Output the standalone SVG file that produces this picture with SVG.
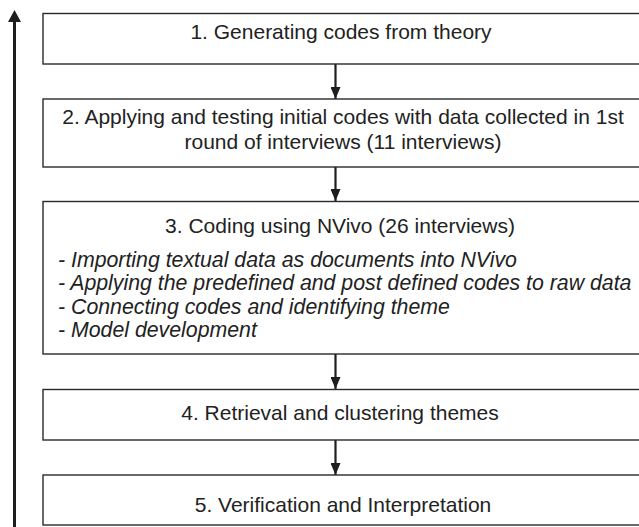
<svg xmlns="http://www.w3.org/2000/svg" width="639" height="527" viewBox="0 0 639 527">
<defs>
<style>
.box{fill:#fff;stroke:#2a2a2a;stroke-width:1.4}
.t{font-family:"Liberation Sans",Arial,sans-serif;font-size:21px;fill:#222;text-anchor:middle}
.i{font-family:"Liberation Sans",Arial,sans-serif;font-size:21.3px;fill:#222;font-style:italic}
.c{stroke:#1e1e1e;stroke-width:2.2;fill:none}
.h{fill:#1e1e1e}
</style>
<marker id="ah" markerWidth="12" markerHeight="10" refX="12" refY="5" orient="auto" markerUnits="userSpaceOnUse" viewBox="0 0 12 10">
<path d="M0,0 L12,5 L0,10 Z" class="h"/>
</marker>
</defs>
<rect width="639" height="527" fill="#fff"/>
<g id="connectors">
<line class="c" x1="335.5" y1="64" x2="335.5" y2="99" marker-end="url(#ah)"/>
<line class="c" x1="335.5" y1="167" x2="335.5" y2="201" marker-end="url(#ah)"/>
<line class="c" x1="335.5" y1="354" x2="335.5" y2="389" marker-end="url(#ah)"/>
<line class="c" x1="335.5" y1="440" x2="335.5" y2="475" marker-end="url(#ah)"/>
<line x1="14.5" y1="527" x2="14.5" y2="20" stroke="#1e1e1e" stroke-width="3"/>
<path class="h" d="M14.5,10 L21,22 L8,22 Z"/>
</g>
<g id="node1">
<rect class="box" x="43" y="13.5" width="600" height="50.5"/>
<text class="t" x="341" y="38.5">1. Generating codes from theory</text>
</g>
<g id="node2">
<rect class="box" x="43" y="99" width="600" height="68"/>
<text class="t" x="343" y="123.5">2. Applying and testing initial codes with data collected in 1st</text>
<text class="t" x="343" y="148.5">round of interviews (11 interviews)</text>
</g>
<g id="node3">
<rect class="box" x="43" y="201.5" width="600" height="152.5"/>
<text class="t" x="340" y="232.5">3. Coding using NVivo (26 interviews)</text>
<text class="i" x="58" y="266.5">- Importing textual data as documents into NVivo</text>
<text class="i" x="58" y="290">- Applying the predefined and post defined codes to raw data</text>
<text class="i" x="58" y="313.5">- Connecting codes and identifying theme</text>
<text class="i" x="58" y="337">- Model development</text>
</g>
<g id="node4">
<rect class="box" x="43" y="389.5" width="600" height="50.5"/>
<text class="t" x="340" y="420">4. Retrieval and clustering themes</text>
</g>
<g id="node5">
<rect class="box" x="43" y="475" width="600" height="50"/>
<text class="t" x="343" y="511.5">5. Verification and Interpretation</text>
</g>
</svg>
